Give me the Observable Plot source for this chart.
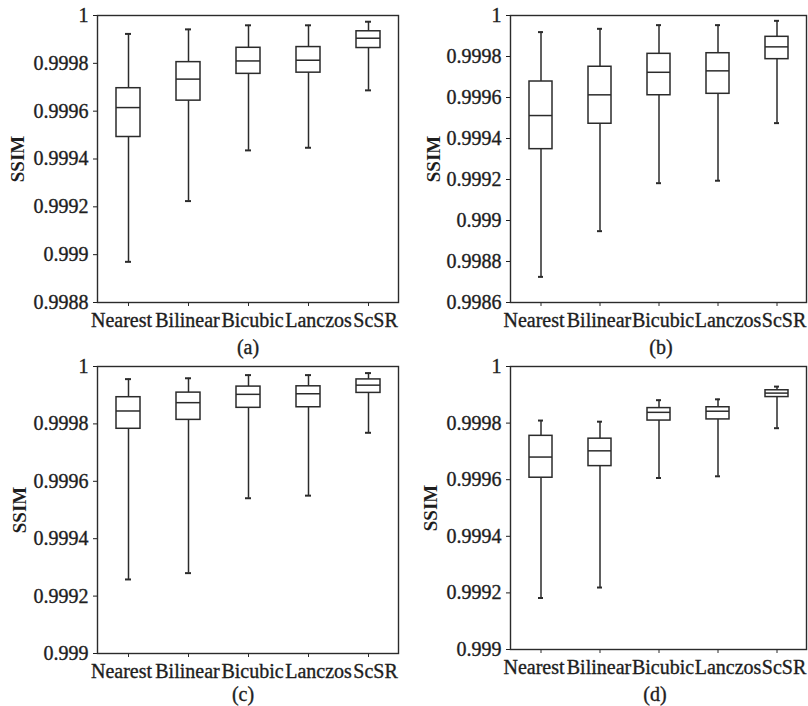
<!DOCTYPE html>
<html>
<head>
<meta charset="utf-8">
<script src="https://cdn.jsdelivr.net/npm/d3@7"></script>
<script src="https://cdn.jsdelivr.net/npm/@observablehq/plot@0.6"></script>
<style>
  html, body { margin: 0; padding: 0; background: #fff; }
  #root { position: relative; width: 808px; height: 706px; overflow: hidden; font-family: "Liberation Serif", "Times New Roman", serif; color: #1e1e1e; }
  .panel { position: absolute; }
  #root svg text { font-family: "Liberation Serif", "Times New Roman", serif !important; font-size: 20px !important; stroke: #1e1e1e; stroke-width: 0.35px; }
  #root svg g[aria-label="y-axis label"] text { font-weight: bold; font-size: 19px !important; stroke-width: 0; }
  .cap { position: absolute; font-size: 20px; width: 60px; text-align: center; line-height: 20px; -webkit-text-stroke: 0.35px #1e1e1e; }
</style>
</head>
<body>
<div id="root"></div>
<script>
const methods = ["Nearest", "Bilinear", "Bicubic", "Lanczos", "ScSR"];
// small horizontal nudges of the category labels, as in the original layout
const labelShift = [-7, -1, 4, 10, 7];

// Panel (a)
const aLow  = [0.99897, 0.999224, 0.999436, 0.999447, 0.999687];
const aQ1   = [0.999492, 0.999644, 0.999756, 0.999761, 0.999864];
const aMed  = [0.999615, 0.999734, 0.999810, 0.999813, 0.999905];
const aQ3   = [0.999696, 0.999805, 0.999865, 0.999868, 0.999934];
const aHigh = [0.999923, 0.999942, 0.999959, 0.999959, 0.999974];
const aTicks = [0.9988, 0.999, 0.9992, 0.9994, 0.9996, 0.9998, 1];

// Panel (b)
const bLow  = [0.998725, 0.998948, 0.999182, 0.999194, 0.999475];
const bQ1   = [0.999348, 0.999472, 0.999611, 0.999618, 0.999787];
const bMed  = [0.999512, 0.999613, 0.999723, 0.999730, 0.999847];
const bQ3   = [0.999678, 0.999750, 0.999813, 0.999816, 0.999896];
const bHigh = [0.999919, 0.999935, 0.999953, 0.999953, 0.999974];
const bTicks = [0.9986, 0.9988, 0.999, 0.9992, 0.9994, 0.9996, 0.9998, 1];

// Panel (c)
const cLow  = [0.999258, 0.999280, 0.999541, 0.999550, 0.999769];
const cQ1   = [0.999783, 0.999814, 0.999856, 0.999858, 0.999908];
const cMed  = [0.999845, 0.999874, 0.999903, 0.999905, 0.999935];
const cQ3   = [0.999893, 0.999909, 0.999930, 0.999931, 0.999955];
const cHigh = [0.999956, 0.999959, 0.999970, 0.999970, 0.999977];
const cTicks = [0.999, 0.9992, 0.9994, 0.9996, 0.9998, 1];

// Panel (d)
const dLow  = [0.999182, 0.999219, 0.999606, 0.999612, 0.999782];
const dQ1   = [0.999607, 0.999648, 0.999809, 0.999813, 0.999892];
const dMed  = [0.999680, 0.999702, 0.999838, 0.999842, 0.999906];
const dQ3   = [0.999755, 0.999745, 0.999853, 0.999856, 0.999916];
const dHigh = [0.999809, 0.999805, 0.999881, 0.999884, 0.999929];
const dTicks = [0.999, 0.9992, 0.9994, 0.9996, 0.9998, 1];

const captions = ["(a)", "(b)", "(c)", "(d)"];

const ink = "#2b2b2b";
const fmt = d => String(Math.round(d * 1e4) / 1e4);

function panel(cfg) {
  const rows = methods.map((m, i) => ({
    method: m, low: cfg.low[i], q1: cfg.q1[i], med: cfg.med[i], q3: cfg.q3[i], high: cfg.high[i]
  }));
  const labelMarks = methods.map((m, i) =>
    Plot.text([m], { x: d => d, text: d => d, frameAnchor: "bottom", lineAnchor: "top", dy: 10, dx: labelShift[i], fill: "#1e1e1e" })
  );
  const chart = Plot.plot({
    width: 404,
    height: cfg.height,
    marginLeft: cfg.ml,
    marginRight: cfg.mr,
    marginTop: cfg.mt,
    marginBottom: cfg.mb,
    style: { fontFamily: "'Liberation Serif', 'Times New Roman', serif", fontSize: "20px", color: "#1e1e1e", background: "transparent", overflow: "visible" },
    x: { type: "band", domain: methods, padding: 0, label: null },
    y: { domain: [cfg.ticks[0], 1], ticks: cfg.ticks, tickFormat: fmt, tickSize: 4, tickPadding: 5,
         label: "SSIM", labelAnchor: "center", labelArrow: false, labelOffset: cfg.lo },
    marks: [
      Plot.axisX({ tickSize: 4, tickFormat: () => "", label: null, stroke: ink }),
      Plot.ruleX(rows, { x: "method", y1: "low", y2: "q1", stroke: ink, strokeWidth: 1.5 }),
      Plot.ruleX(rows, { x: "method", y1: "q3", y2: "high", stroke: ink, strokeWidth: 1.5 }),
      Plot.barY(rows, { x: "method", y1: "q1", y2: "q3", fill: "white", stroke: ink, strokeWidth: 1.5, insetLeft: 18, insetRight: 18 }),
      Plot.tickY(rows, { x: "method", y: "med", stroke: ink, strokeWidth: 1.5, insetLeft: 18, insetRight: 18 }),
      Plot.tickY(rows, { x: "method", y: "low", stroke: ink, strokeWidth: 2, insetLeft: 27, insetRight: 27 }),
      Plot.tickY(rows, { x: "method", y: "high", stroke: ink, strokeWidth: 2, insetLeft: 27, insetRight: 27 }),
      Plot.frame({ stroke: ink, strokeWidth: 1.4 }),
      ...labelMarks
    ]
  });
  chart.classList.add("panel");
  chart.style.left = cfg.left + "px";
  chart.style.top = cfg.top + "px";
  return chart;
}

const root = document.getElementById("root");
root.appendChild(panel({ low: aLow, q1: aQ1, med: aMed, q3: aQ3, high: aHigh, ticks: aTicks,
  left: 0, top: 0, height: 335, ml: 97, mr: 6, mt: 15, mb: 33, lo: 87 }));
root.appendChild(panel({ low: bLow, q1: bQ1, med: bMed, q3: bQ3, high: bHigh, ticks: bTicks,
  left: 404, top: 0, height: 335, ml: 106, mr: 2, mt: 15, mb: 33, lo: 84 }));
root.appendChild(panel({ low: cLow, q1: cQ1, med: cMed, q3: cQ3, high: cHigh, ticks: cTicks,
  left: 0, top: 350, height: 340, ml: 97, mr: 6, mt: 16, mb: 37, lo: 85 }));
root.appendChild(panel({ low: dLow, q1: dQ1, med: dMed, q3: dQ3, high: dHigh, ticks: dTicks,
  left: 404, top: 350, height: 340, ml: 106, mr: 2, mt: 16, mb: 41, lo: 87 }));

const capPos = [[218, 337], [631, 337], [213, 684], [625, 684]];
captions.forEach((t, i) => {
  const d = document.createElement("div");
  d.className = "cap";
  d.textContent = t;
  d.style.left = capPos[i][0] + "px";
  d.style.top = capPos[i][1] + "px";
  root.appendChild(d);
});
</script>
</body>
</html>
